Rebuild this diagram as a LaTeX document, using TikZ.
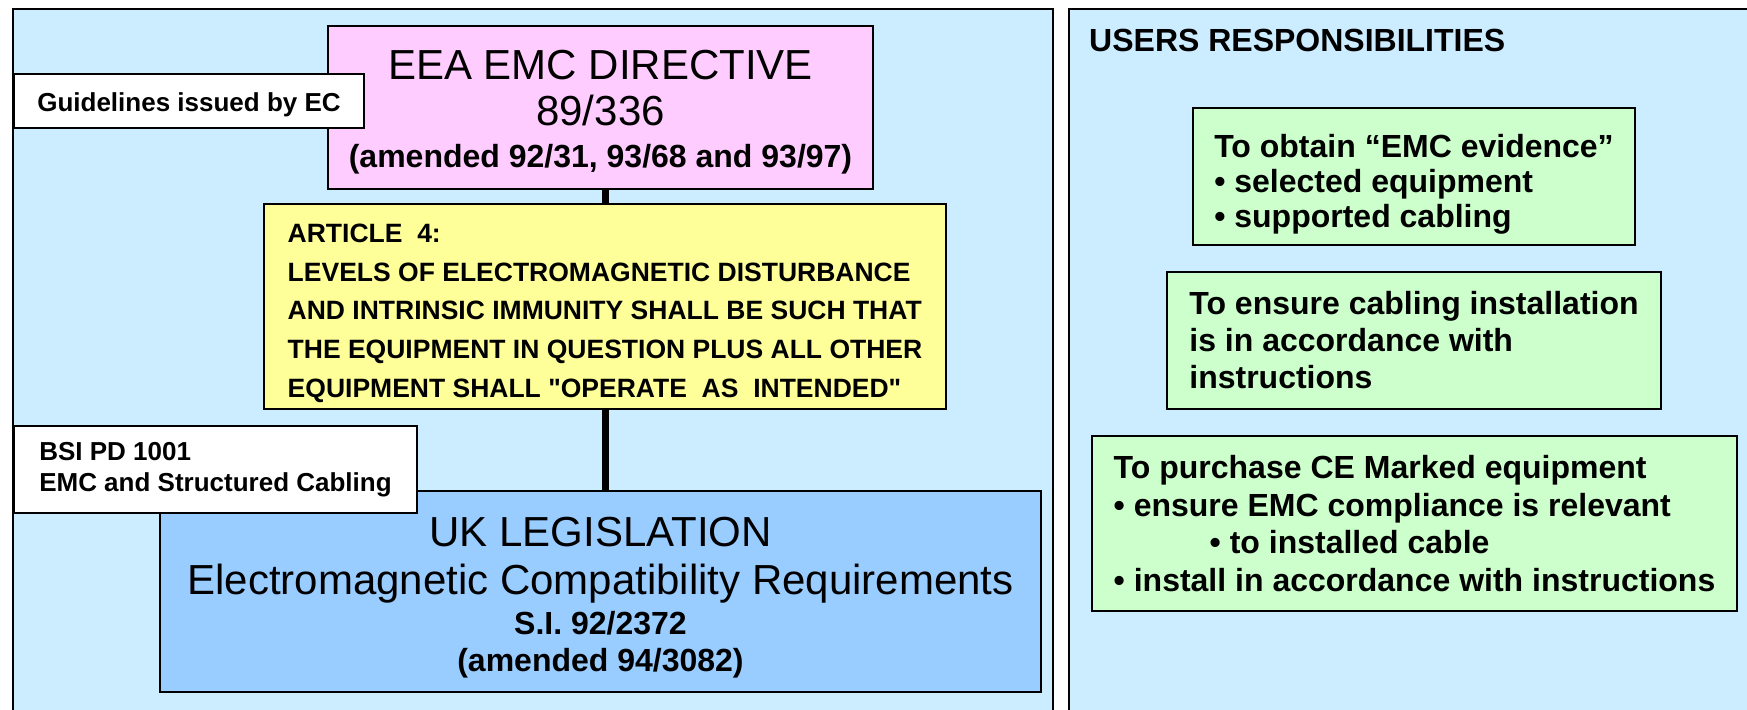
\documentclass[tikz,border=0pt]{standalone}
\usepackage{fontspec}
\setmainfont{Liberation Sans}
\usetikzlibrary{positioning,calc}

\definecolor{panelblue}{HTML}{CCECFF}
\definecolor{dirpink}{HTML}{FFCCFF}
\definecolor{artyellow}{HTML}{FFFF99}
\definecolor{lawblue}{HTML}{99CCFF}
\definecolor{dutygreen}{HTML}{CCFFCC}

% pushes the text of a box down: a taller first line
\newcommand{\padtop}[1]{\rule{0pt}{#1}}
\newcommand{\refline}{\fontsize{32}{37}\selectfont\bfseries}

\begin{document}
\begin{tikzpicture}[
  x=1pt, y=-1pt,
  panel/.style={draw=black, line width=1.5pt, fill=panelblue},
  box/.style={draw=black, line width=2pt, inner sep=0pt, anchor=north west, align=center},
  note/.style={box, fill=white, align=left, font=\fontsize{26}{31}\selectfont\bfseries},
  duty/.style={box, fill=dutygreen, align=left, font=\fontsize{32}{37}\selectfont\bfseries},
  conn/.style={line width=7pt, black},
]
\useasboundingbox (0,0) rectangle (1747,709);
\clip (0,0) rectangle (1747,709);
\fill[white] (0,0) rectangle (1747,709);

%% ---------- the two panels (run off the bottom and right edge) ----------
\path[panel] (13,9) rectangle (1053,730);
\path[panel] (1069,9) rectangle (1770,730);

%% ---------- legislation chain (left panel) ----------
\node[box, fill=dirpink, minimum width=545pt, minimum height=163pt,
      font=\fontsize{42}{46}\selectfont] (dir) at (327,25)
  {\padtop{39pt}EEA EMC DIRECTIVE\\ 89/336\\[-4pt]
   \fontsize{32}{46}\selectfont\bfseries (amended 92/31, 93/68 and 93/97)};

\node[box, fill=artyellow, align=left, minimum width=682pt,
      minimum height=205pt, font=\fontsize{26.5}{38.6}\selectfont\bfseries]
  (art) at ($(dir.south west)+(-64,13)$)
  {\padtop{32pt}ARTICLE\ \ 4:\\
   LEVELS OF ELECTROMAGNETIC DISTURBANCE\\
   AND INTRINSIC IMMUNITY SHALL BE SUCH THAT\\
   THE EQUIPMENT IN QUESTION PLUS ALL OTHER\\
   EQUIPMENT SHALL \textquotedbl OPERATE\ \ AS\ \ INTENDED\textquotedbl};

\node[box, fill=lawblue, minimum width=881pt, minimum height=201pt,
      font=\fontsize{42}{37}\selectfont] (law) at (159,490)
  {\padtop{41pt}UK LEGISLATION\\[11pt]
   Electromagnetic Compatibility Requirements\\[3pt]
   \refline S.I. 92/2372\\ \refline (amended 94/3082)};

%% thick links down the chain
\draw[conn] (dir.south -| art.north) -- (art.north);
\draw[conn] (art.south) -- (art.south |- law.north);

%% side notes laid over the boxes
\node[note, minimum width=350pt, minimum height=54pt,
      text height=20pt, text depth=0pt] (ec) at (13,73)
  {Guidelines issued by EC};
\node[note, minimum width=403pt, minimum height=87pt] (bsi) at (13,425)
  {BSI PD 1001\\ EMC and Structured Cabling};

%% ---------- users responsibilities (right panel) ----------
\node[anchor=base west, inner sep=0pt, font=\fontsize{32}{37}\selectfont\bfseries]
  (users) at (1089,52) {USERS RESPONSIBILITIES};

\node[duty, minimum width=442pt, minimum height=137pt,
      font=\fontsize{32}{35}\selectfont\bfseries] (evid) at (1192,107)
  {\padtop{39pt}To obtain “EMC evidence”\\ • selected equipment\\ • supported cabling};
\node[duty, minimum width=494pt, minimum height=137pt] (inst) at (1166,271)
  {To ensure cabling installation\\ is in accordance with\\ instructions};
\node[duty, minimum width=645pt, minimum height=175pt,
      font=\fontsize{32}{37.5}\selectfont\bfseries] (buy) at (1091,435)
  {To purchase CE Marked equipment\\
   • ensure EMC compliance is relevant\\
   \hspace*{96pt}• to installed cable\\
   • install in accordance with instructions};

\end{tikzpicture}
\end{document}
